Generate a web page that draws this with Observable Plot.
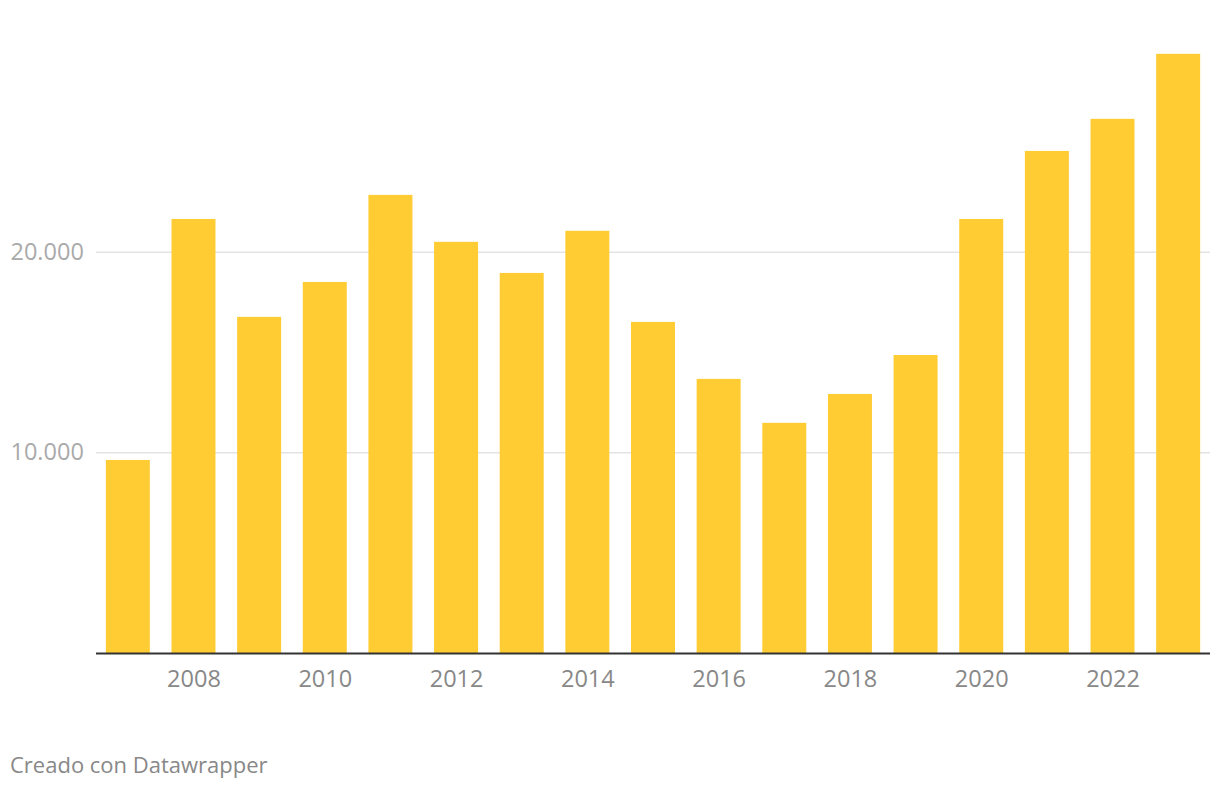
<!DOCTYPE html>
<html>
<head>
<meta charset="utf-8">
<script src="https://cdn.jsdelivr.net/npm/d3@7"></script>
<script src="https://cdn.jsdelivr.net/npm/@observablehq/plot@0.6"></script>
<style>
  html, body { margin: 0; padding: 0; background: #fff; }
  body { width: 1220px; height: 788px; overflow: hidden; font-family: "Open Sans", sans-serif; }
  #caption { position: absolute; left: 10px; top: 749px; font-size: 22px; color: #888; font-family: "Open Sans", sans-serif; }
</style>
</head>
<body>
<div id="chart"></div>
<div id="caption">Creado con Datawrapper</div>
<script>
const years = [2007, 2008, 2009, 2010, 2011, 2012, 2013, 2014, 2015, 2016, 2017, 2018, 2019, 2020, 2021, 2022, 2023];
const values = [9620, 21630, 16750, 18490, 22830, 20490, 18940, 21040, 16500, 13660, 11470, 12910, 14850, 21630, 25020, 26620, 29860];
const yTicks = [10000, 20000];
const xTickYears = [2008, 2010, 2012, 2014, 2016, 2018, 2020, 2022];

const data = years.map((y, i) => ({year: y, value: values[i]}));
const fmt = d => d3.format(",")(d).replace(/,/g, ".");

const chart = Plot.plot({
  width: 1220,
  height: 710,
  marginLeft: 96,
  marginRight: 10,
  marginTop: 51,
  marginBottom: 57,
  style: {fontFamily: "Open Sans, sans-serif", background: "#fff"},
  x: {type: "band", domain: years, paddingInner: 0.33, paddingOuter: 0.15, round: false, axis: null},
  y: {domain: [0, 30000], axis: null},
  marks: [
    Plot.gridY(yTicks, {stroke: "#e3e3e3", strokeOpacity: 1, strokeWidth: 1.5}),
    Plot.barY(data, {x: "year", y: "value", fill: "#ffcc33"}),
    Plot.ruleY([0], {stroke: "#333", strokeWidth: 2}),
    Plot.axisX(xTickYears, {tickSize: 0, tickPadding: 17, fontSize: 23.5, fill: "#888", label: null, tickFormat: d => String(d)}),
    Plot.text(yTicks, {y: d => d, text: fmt, frameAnchor: "left", textAnchor: "start", dx: -86, fontSize: 23.5, fill: "#aaa"})
  ]
});
document.getElementById("chart").appendChild(chart);
</script>
</body>
</html>
